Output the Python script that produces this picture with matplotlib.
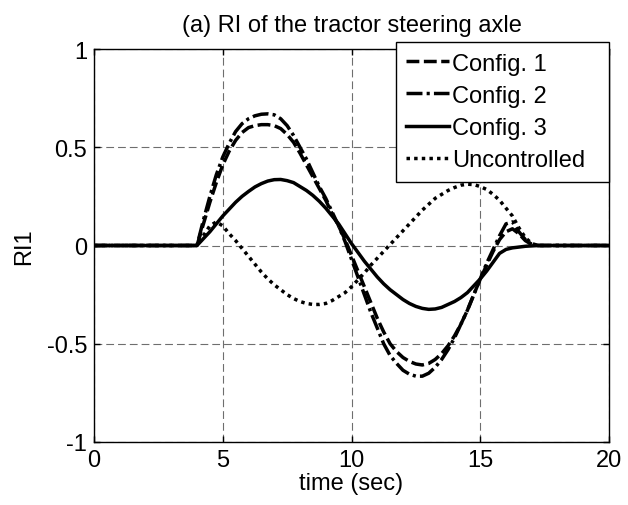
import matplotlib
matplotlib.use("Agg")
import matplotlib.pyplot as plt

plt.rcParams['font.family'] = ['Liberation Sans', 'DejaVu Sans']
plt.rcParams['axes.unicode_minus'] = False

# time samples (sec)
time = [0.0, 4.0, 4.25, 4.5, 4.75, 5.0, 5.25, 5.5, 5.75, 6.0, 6.25, 6.5, 6.75,
        7.0, 7.25, 7.5, 7.75, 8.0, 8.25, 8.5, 8.75, 9.0, 9.25, 9.5, 9.75,
        10.0, 10.25, 10.5, 10.75, 11.0, 11.25, 11.5, 11.75, 12.0, 12.25, 12.5,
        12.75, 13.0, 13.25, 13.5, 13.75, 14.0, 14.25, 14.5, 14.75, 15.0, 15.25,
        15.5, 15.75, 16.0, 16.25, 16.5, 16.75, 17.0, 17.25, 17.5, 20.0]

config1 = [0, 0, 0.11, 0.22, 0.32, 0.41, 0.48, 0.535, 0.575, 0.6, 0.61, 0.615, 0.615,
           0.61, 0.595, 0.565, 0.525, 0.47, 0.41, 0.35, 0.29, 0.23, 0.16, 0.1, 0.03,
           -0.05, -0.13, -0.21, -0.29, -0.37, -0.44, -0.5, -0.54, -0.57, -0.59, -0.603,
           -0.608, -0.6, -0.58, -0.55, -0.51, -0.46, -0.4, -0.33, -0.25, -0.17, -0.1,
           -0.03, 0.03, 0.07, 0.085, 0.06, 0.025, 0.005, 0, 0, 0]

config2 = [0, 0, 0.13, 0.25, 0.36, 0.45, 0.52, 0.58, 0.62, 0.645, 0.66, 0.668, 0.67,
           0.665, 0.645, 0.61, 0.56, 0.5, 0.44, 0.37, 0.3, 0.24, 0.17, 0.1, 0.02,
           -0.07, -0.16, -0.25, -0.34, -0.42, -0.5, -0.56, -0.6, -0.635, -0.655, -0.665,
           -0.665, -0.65, -0.62, -0.58, -0.53, -0.47, -0.4, -0.33, -0.25, -0.17, -0.09,
           -0.02, 0.05, 0.11, 0.12, 0.07, 0.03, 0.005, 0, 0, 0]

config3 = [0, 0, 0.035, 0.07, 0.11, 0.15, 0.185, 0.22, 0.25, 0.275, 0.298, 0.315, 0.328,
           0.335, 0.336, 0.33, 0.32, 0.3, 0.28, 0.255, 0.225, 0.19, 0.15, 0.11, 0.06,
           0.01, -0.035, -0.08, -0.12, -0.16, -0.195, -0.225, -0.25, -0.275, -0.295, -0.31,
           -0.32, -0.325, -0.323, -0.315, -0.3, -0.285, -0.265, -0.24, -0.205, -0.17, -0.13,
           -0.085, -0.04, -0.02, -0.012, -0.008, -0.004, -0.002, 0, 0, 0]

uncontrolled = [0, 0, 0.05, 0.1, 0.12, 0.1, 0.06, 0.025, -0.015, -0.055, -0.095, -0.135, -0.17,
                -0.2, -0.225, -0.25, -0.27, -0.285, -0.295, -0.3, -0.3, -0.295, -0.28, -0.26, -0.24,
                -0.21, -0.175, -0.14, -0.1, -0.065, -0.03, 0.005, 0.04, 0.075, 0.11, 0.145,
                0.18, 0.21, 0.24, 0.26, 0.28, 0.295, 0.307, 0.312, 0.31, 0.3, 0.285,
                0.26, 0.23, 0.19, 0.15, 0.09, 0.04, 0.01, 0, 0, 0]

labels = ["Config. 1", "Config. 2", "Config. 3", "Uncontrolled"]
xticks = [0, 5, 10, 15, 20]
yticks = [-1, -0.5, 0, 0.5, 1]
ytick_labels = ["-1", "-0.5", "0", "0.5", "1"]

FS = 17
fig = plt.figure(figsize=(6.28, 5.06), dpi=100)
ax = fig.add_axes([94/628, 63/506, 515/628, 393/506])

lw = 2.5
ax.plot(time, config1, color='black', lw=lw, linestyle=(0, (3.7, 1.3)), label=labels[0], zorder=3)
ax.plot(time, config2, color='black', lw=lw, linestyle=(0, (4.6, 1.2, 0.9, 1.2)), label=labels[1], zorder=3)
ax.plot(time, config3, color='black', lw=lw, linestyle='-', label=labels[2], zorder=3)
ax.plot(time, uncontrolled, color='black', lw=lw, linestyle=(0, (1.0, 1.2)), label=labels[3], zorder=3)

ax.set_xlim(0, 20)
ax.set_ylim(-1, 1)
ax.set_xticks(xticks)
ax.set_xticklabels([str(v) for v in xticks])
ax.set_yticks(yticks)
ax.set_yticklabels(ytick_labels)
ax.tick_params(direction='in', length=4, width=1, top=True, right=True,
               labelsize=FS, pad=5)
ax.grid(True, color='#6e6e6e', linestyle=(0, (7, 3.6)), linewidth=0.8)
for s in ax.spines.values():
    s.set_linewidth(1.0)
    s.set_color('black')

ax.set_title("(a) RI of the tractor steering axle", fontsize=FS, pad=13)
ax.set_xlabel("time (sec)", fontsize=FS, labelpad=1)
ax.set_ylabel("RI1", fontsize=FS, labelpad=8)

leg = ax.legend(loc='upper left', bbox_to_anchor=(0.586, 1.018, 0.414, 0.0), mode='expand',
                borderaxespad=0, fontsize=FS, handlelength=1.8, handletextpad=0.13,
                labelspacing=0.43, borderpad=0.45, fancybox=False, framealpha=1,
                edgecolor='black')
leg.get_frame().set_linewidth(1.0)
leg.set_zorder(5)

fig.savefig("out.png", dpi=100)
